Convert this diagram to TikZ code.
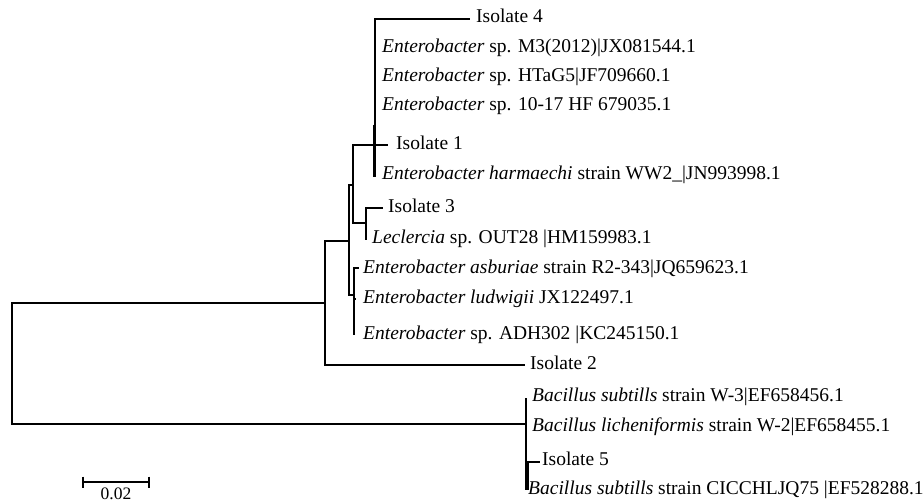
\documentclass[tikz,border=0pt]{standalone}
\usepackage{fontspec}
\setmainfont{Liberation Serif}
\begin{document}
\begin{tikzpicture}[x=1pt,y=-1pt,
  br/.style={line width=1.3pt, line join=miter},
  brthick/.style={line width=2.3pt, line join=miter},
  tx/.style={anchor=base west, inner sep=0pt, font=\fontsize{19.5}{22}\selectfont},
  sclab/.style={anchor=base, inner sep=0pt, font=\fontsize{17.5}{20}\selectfont}]
\useasboundingbox (0,0) rectangle (924,502);
% internal nodes
\coordinate (R) at (12,363);
\coordinate (N1) at (325,303);
\coordinate (N2) at (349,241);
\coordinate (N3) at (353,185);
\coordinate (NA) at (375,145);
\coordinate (NAa) at (373.2,125);
\coordinate (NAb) at (373.2,177);
\coordinate (NL) at (366,223);
\coordinate (NE) at (354,295);
\coordinate (NB) at (526,424);
\coordinate (NBb) at (526,490);
\coordinate (N5) at (528,475);
% leaf tips
\coordinate (tIso4) at (470,19);
\coordinate (tM3) at (375,48);
\coordinate (tHT) at (375,78);
\coordinate (tA) at (375,106);
\coordinate (tIso1) at (388,145);
\coordinate (tHarm) at (375,177);
\coordinate (tIso3) at (383,208);
\coordinate (tLec) at (366,240);
\coordinate (tAsb) at (359,268);
\coordinate (tLud) at (356,299);
\coordinate (tADH) at (354,335);
\coordinate (tIso2) at (525,365);
\coordinate (tW3) at (526,398);
\coordinate (tLich) at (526,428);
\coordinate (tIso5) at (540,462);
\coordinate (tCIC) at (528,490);
% branches
\draw[br] (R) |- (N1);
\draw[br] (R) |- (NB);
\draw[br] (N1) |- (N2);
\draw[br] (N1) |- (tIso2);
\draw[br] (N2) |- (N3);
\draw[br] (N2) |- (NE);
\draw[br] (N3) |- (NA);
\draw[br] (N3) |- (NL);
\draw[br] (NA) |- (tIso4);
\draw[br] (NA) |- (tM3);
\draw[br] (NA) |- (tHT);
\draw[br] (NA) |- (tA);
\draw[br] (NA) |- (tIso1);
\draw[br] (NA) |- (tHarm);
\draw[br] (NAa) -- (NAb);
\draw[br] (NL) |- (tIso3);
\draw[br] (NL) |- (tLec);
\draw[brthick] (NE) |- (tAsb);
\draw[brthick] (NE) |- (tLud);
\draw[brthick] (NE) |- (tADH);
\draw[br] (NB) |- (tW3);
\draw[br] (NB) |- (tLich);
\draw[br] (NB) |- (N5);
\draw[br] (NB) -- (NBb);
\draw[br] (N5) |- (tIso5);
\draw[br] (N5) |- (tCIC);
% labels
\node[tx] (lIso4) at (476,23) {Isolate 4};
\node[tx] (lM3) at (382,52.5) {\textit{Enterobacter} sp. M3(2012)|JX081544.1};
\node[tx] (lHT) at (382,82) {\textit{Enterobacter} sp. HTaG5|JF709660.1};
\node[tx] (lA) at (382,110.5) {\textit{Enterobacter} sp. 10-17 HF 679035.1};
\node[tx] (lIso1) at (396,150) {Isolate 1};
\node[tx] (lHarm) at (382,180) {\textit{Enterobacter harmaechi} strain WW2\_|JN993998.1};
\node[tx] (lIso3) at (388,212.5) {Isolate 3};
\node[tx] (lLec) at (372,243.5) {\textit{Leclercia} sp. OUT28 |HM159983.1};
\node[tx] (lAsb) at (363,273.5) {\textit{Enterobacter asburiae} strain R2-343|JQ659623.1};
\node[tx] (lLud) at (363,304) {\textit{Enterobacter ludwigii} JX122497.1};
\node[tx] (lADH) at (363,340) {\textit{Enterobacter} sp. ADH302 |KC245150.1};
\node[tx] (lIso2) at (530,369.5) {Isolate 2};
\node[tx] (lW3) at (532,402) {\textit{Bacillus subtills} strain W-3|EF658456.1};
\node[tx] (lLich) at (532,432) {\textit{Bacillus licheniformis} strain W-2|EF658455.1};
\node[tx] (lIso5) at (542,466) {Isolate 5};
\node[tx] (lCIC) at (528,494) {\textit{Bacillus subtills} strain CICCHLJQ75 |EF528288.1};
% scale bar
\coordinate (sL) at (83,482);
\coordinate (sR) at (149,482);
\draw[br] (sL) -- (sR);
\draw[br] (sL) ++(0,-5.5) -- ++(0,11);
\draw[br] (sR) ++(0,-5.5) -- ++(0,11);
\node[sclab] (sLab) at (116,499.5) {0.02};
\end{tikzpicture}
\end{document}
